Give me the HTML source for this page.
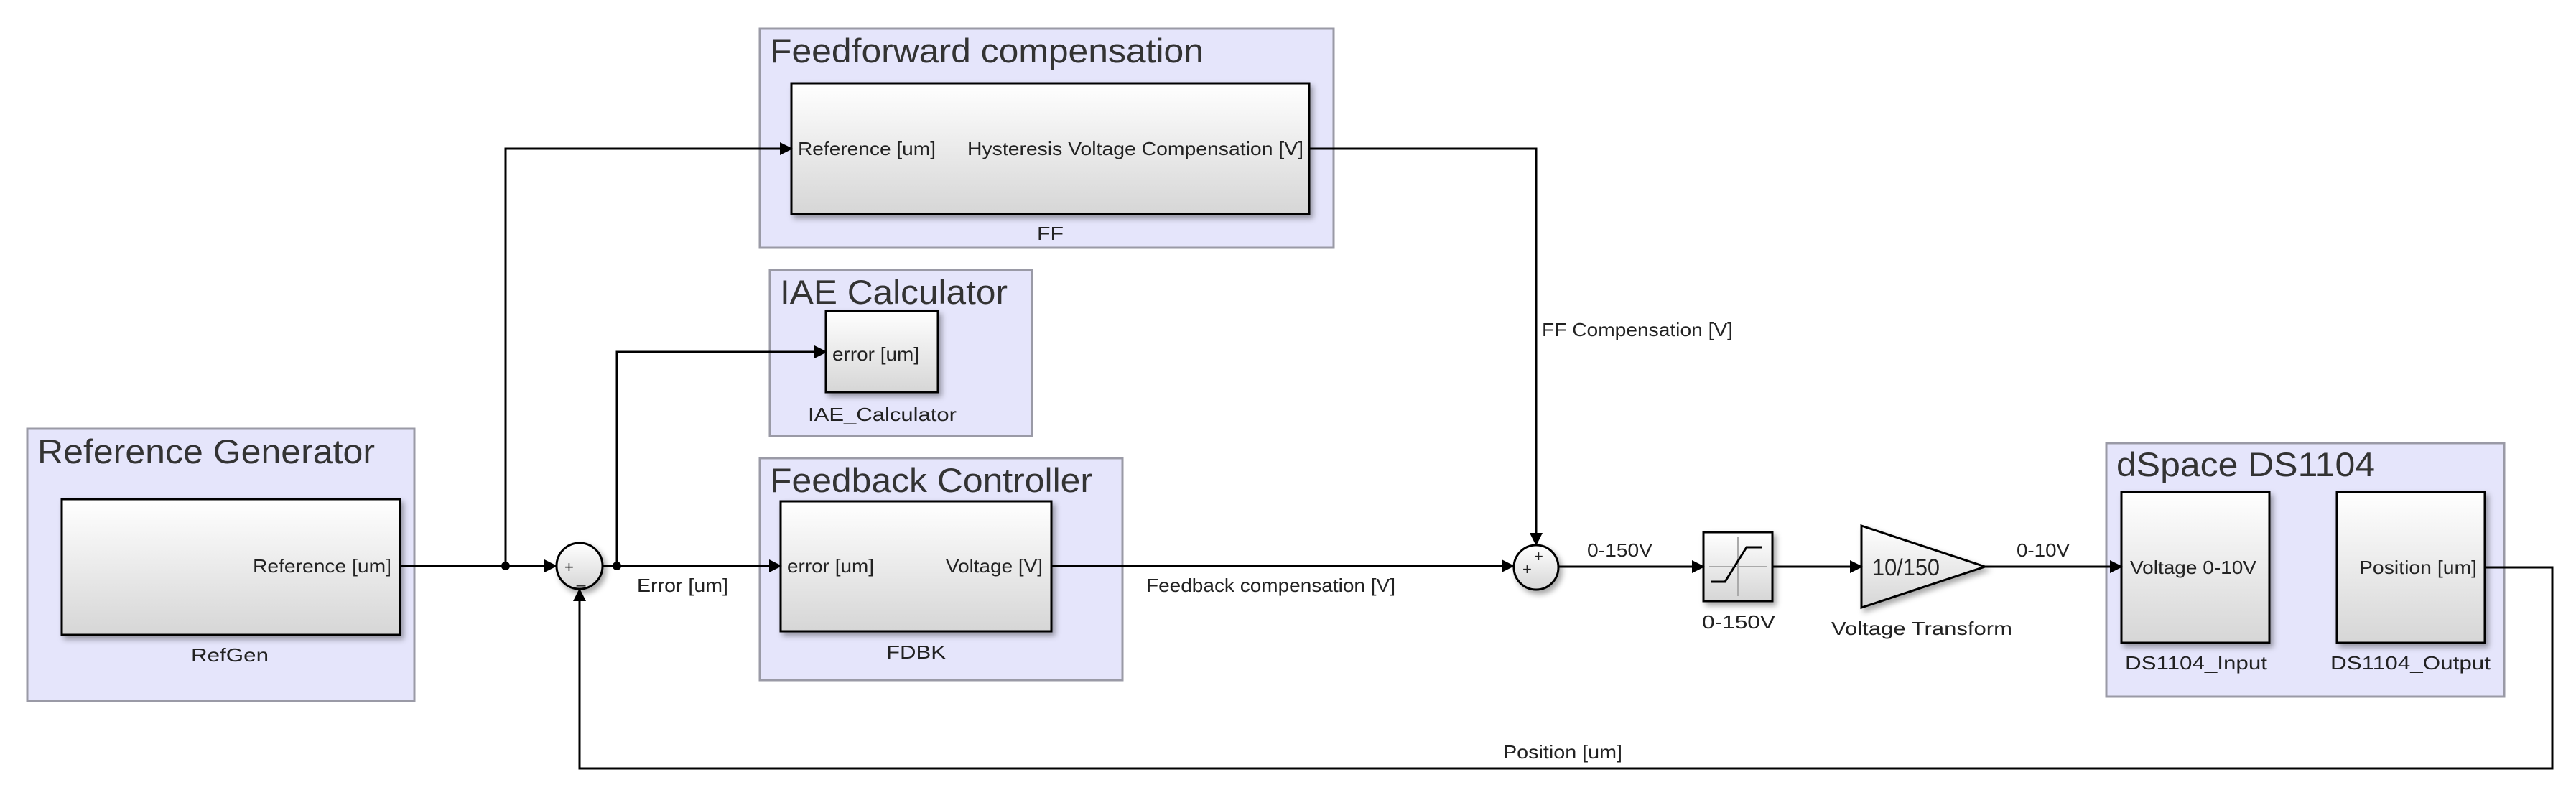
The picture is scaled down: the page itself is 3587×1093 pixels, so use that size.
<!DOCTYPE html>
<html><head><meta charset="utf-8"><style>
html,body{margin:0;padding:0;background:#fff;}
svg{display:block;}
text{font-family:"Liberation Sans",Arial,sans-serif;fill:#222;}
.t{font-size:47px;fill:#333;}
.s{font-size:26px;}
</style></head><body>
<svg width="3587" height="1093" viewBox="0 0 3587 1093" xmlns="http://www.w3.org/2000/svg">
<defs>
<linearGradient id="g" x1="0" y1="0" x2="0" y2="1"><stop offset="0" stop-color="#ffffff"/><stop offset="1" stop-color="#d6d6d6"/></linearGradient>
<filter id="sh" x="-10%" y="-10%" width="130%" height="130%"><feDropShadow dx="4" dy="5" stdDeviation="4" flood-color="#000" flood-opacity="0.35"/></filter>
<marker id="a" markerWidth="18" markerHeight="18" refX="16" refY="9" orient="auto" markerUnits="userSpaceOnUse"><path d="M0,0 L18,9 L0,18 z" fill="#000"/></marker>
</defs>

<g fill="#e5e5fb" stroke="#9a9aa6" stroke-width="3">
<rect x="38" y="597" width="539" height="379"/>
<rect x="1058" y="40" width="799" height="305"/>
<rect x="1072" y="376" width="365" height="231"/>
<rect x="1058" y="638" width="505" height="309"/>
<rect x="2933" y="617" width="554" height="353"/>
</g>
<text class="t" x="52" y="645" textLength="470" lengthAdjust="spacingAndGlyphs">Reference Generator</text>
<text class="t" x="1072" y="87" textLength="604" lengthAdjust="spacingAndGlyphs">Feedforward compensation</text>
<text class="t" x="1086" y="423" textLength="317" lengthAdjust="spacingAndGlyphs">IAE Calculator</text>
<text class="t" x="1072" y="685" textLength="449" lengthAdjust="spacingAndGlyphs">Feedback Controller</text>
<text class="t" x="2947" y="663" textLength="360" lengthAdjust="spacingAndGlyphs">dSpace DS1104</text>

<g fill="url(#g)" stroke="#000" stroke-width="3" filter="url(#sh)">
<rect x="86" y="695" width="471" height="189"/>
<rect x="1102" y="116" width="721" height="182"/>
<rect x="1150" y="433" width="156" height="113"/>
<rect x="1087" y="698" width="377" height="181"/>
<rect x="2954" y="685" width="206" height="210"/>
<rect x="3254" y="685" width="206" height="210"/>
<rect x="2372" y="741" width="96" height="96"/>
<path d="M2592,732 L2764,789 L2592,846 z"/>
<circle cx="807" cy="788" r="32"/>
<circle cx="2139" cy="790" r="31"/>
</g>

<g stroke="#aaa" stroke-width="2"><line x1="2380" y1="789" x2="2460" y2="789"/><line x1="2420" y1="748" x2="2420" y2="830"/></g>
<path d="M2382,810 L2402,810 L2432,762 L2454,762" fill="none" stroke="#000" stroke-width="3"/>

<text x="786" y="797" style="font-size:22px">+</text>
<text x="803" y="812" style="font-size:22px">_</text>
<text x="2136" y="782" style="font-size:22px">+</text>
<text x="2120" y="800" style="font-size:22px">+</text>

<g>
<text class="s" x="352" y="797" textLength="193" lengthAdjust="spacingAndGlyphs">Reference [um]</text>
<text class="s" x="266" y="921" textLength="108" lengthAdjust="spacingAndGlyphs">RefGen</text>
<text class="s" x="1111" y="216" textLength="192" lengthAdjust="spacingAndGlyphs">Reference [um]</text>
<text class="s" x="1347" y="216" textLength="468" lengthAdjust="spacingAndGlyphs">Hysteresis Voltage Compensation [V]</text>
<text class="s" x="1444" y="334" textLength="37" lengthAdjust="spacingAndGlyphs">FF</text>
<text class="s" x="1159" y="502" textLength="121" lengthAdjust="spacingAndGlyphs">error [um]</text>
<text class="s" x="1125" y="586" textLength="207" lengthAdjust="spacingAndGlyphs">IAE_Calculator</text>
<text class="s" x="1096" y="797" textLength="121" lengthAdjust="spacingAndGlyphs">error [um]</text>
<text class="s" x="1317" y="797" textLength="135" lengthAdjust="spacingAndGlyphs">Voltage [V]</text>
<text class="s" x="1234" y="917" textLength="83" lengthAdjust="spacingAndGlyphs">FDBK</text>
<text class="s" x="887" y="824" textLength="127" lengthAdjust="spacingAndGlyphs">Error [um]</text>
<text class="s" x="1596" y="824" textLength="347" lengthAdjust="spacingAndGlyphs">Feedback compensation [V]</text>
<text class="s" x="2147" y="468" textLength="266" lengthAdjust="spacingAndGlyphs">FF Compensation [V]</text>
<text class="s" x="2210" y="775" textLength="91" lengthAdjust="spacingAndGlyphs">0-150V</text>
<text class="s" x="2370" y="875" textLength="102" lengthAdjust="spacingAndGlyphs">0-150V</text>
<text x="2607" y="801" style="font-size:32px" textLength="94" lengthAdjust="spacingAndGlyphs">10/150</text>
<text class="s" x="2550" y="884" textLength="252" lengthAdjust="spacingAndGlyphs">Voltage Transform</text>
<text class="s" x="2808" y="775" textLength="74" lengthAdjust="spacingAndGlyphs">0-10V</text>
<text class="s" x="2966" y="799" textLength="176" lengthAdjust="spacingAndGlyphs">Voltage 0-10V</text>
<text class="s" x="3285" y="799" textLength="164" lengthAdjust="spacingAndGlyphs">Position [um]</text>
<text class="s" x="2959" y="932" textLength="198" lengthAdjust="spacingAndGlyphs">DS1104_Input</text>
<text class="s" x="3245" y="932" textLength="223" lengthAdjust="spacingAndGlyphs">DS1104_Output</text>
<text class="s" x="2093" y="1056" textLength="166" lengthAdjust="spacingAndGlyphs">Position [um]</text>
</g>

<g fill="none" stroke="#000" stroke-width="3">
<path d="M557,788 L774,788" marker-end="url(#a)"/>
<path d="M704,788 L704,207 L1102,207" marker-end="url(#a)"/>
<path d="M839,788 L1087,788" marker-end="url(#a)"/>
<path d="M859,788 L859,490 L1150,490" marker-end="url(#a)"/>
<path d="M1823,207 L2139,207 L2139,758" marker-end="url(#a)"/>
<path d="M1464,788 L2107,788" marker-end="url(#a)"/>
<path d="M2170,789 L2372,789" marker-end="url(#a)"/>
<path d="M2468,789 L2592,789" marker-end="url(#a)"/>
<path d="M2764,789 L2954,789" marker-end="url(#a)"/>
<path d="M3460,790 L3554,790 L3554,1070 L807,1070 L807,821" marker-end="url(#a)"/>
</g>
<circle cx="704" cy="788" r="6" fill="#000"/>
<circle cx="859" cy="788" r="6" fill="#000"/>
</svg>
</body></html>
